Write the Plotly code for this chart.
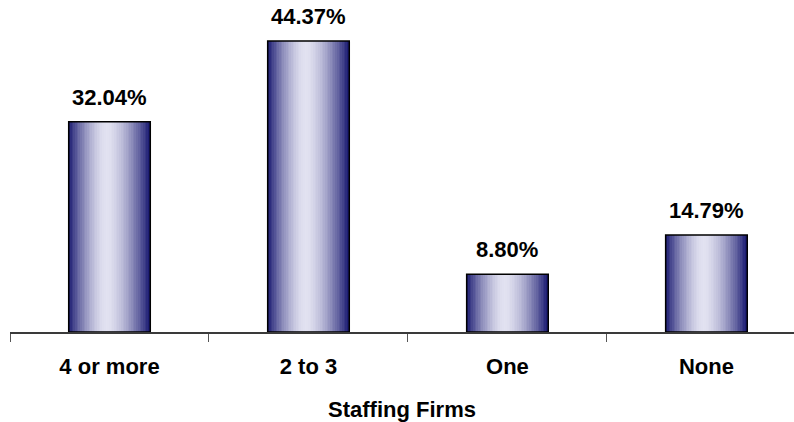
import plotly.graph_objects as go

# Survey responses: number of staffing firms used
categories = ["4 or more", "2 to 3", "One", "None"]
shares = [32.04, 44.37, 8.80, 14.79]
axis_title = "Staffing Firms"

FONT = "Arial, 'Liberation Sans', sans-serif"
BAR_WIDTH = 0.41
N_SLICES = 48
DARK = (24, 24, 112)
LIGHT = (226, 226, 241)


def shade(t):
    """Cylinder-like shading across a bar: dark edges, light middle."""
    centre = 0.47
    span = centre if t < centre else 1 - centre
    d = min(abs(t - centre) / span, 1.0)
    f = d ** 1.6
    r, g, b = (round(LIGHT[i] + (DARK[i] - LIGHT[i]) * f) for i in range(3))
    return f"rgb({r},{g},{b})"


fig = go.Figure()

# Gradient fill: each bar is built from narrow vertical slices
step = BAR_WIDTH / N_SLICES
for k in range(N_SLICES):
    t = (k + 0.5) / N_SLICES
    fig.add_trace(go.Bar(
        x=categories, y=shares,
        width=step * 1.15,
        offset=-BAR_WIDTH / 2 + k * step,
        marker=dict(color=shade(t), line=dict(width=0)),
        hoverinfo="skip", showlegend=False,
    ))

# Outline of each bar
fig.add_trace(go.Bar(
    x=categories, y=shares,
    width=BAR_WIDTH, offset=-BAR_WIDTH / 2,
    marker=dict(color="rgba(0,0,0,0)", line=dict(color="black", width=1.5)),
    hovertemplate="%{x}: %{y:.2f}%<extra></extra>", showlegend=False,
))

# Value labels above the bars
for cat, val in zip(categories, shares):
    fig.add_annotation(
        x=cat, y=val, text=f"<b>{val:.2f}%</b>",
        showarrow=False, yanchor="bottom", yshift=10,
        font=dict(family=FONT, size=22, color="black"),
    )

fig.update_layout(
    width=794, height=422,
    margin=dict(l=10, r=0, t=4, b=90),
    paper_bgcolor="white", plot_bgcolor="white",
    barmode="overlay",
    font=dict(family=FONT, color="black"),
    xaxis=dict(
        type="category",
        range=[-0.5, 3.44],
        showline=True, linecolor="#3a3a3a", linewidth=1.5,
        ticks="outside", tickson="boundaries", ticklen=8, tickcolor="#555555",
        tickfont=dict(family=FONT, size=22, color="black"),
        tickprefix="<b>", ticksuffix="</b>",
        ticklabelstandoff=14,
        title=dict(text=f"<b>{axis_title}</b>", font=dict(family=FONT, size=22, color="black"), standoff=26),
        showgrid=False, zeroline=False,
    ),
    yaxis=dict(range=[0, 50], visible=False, showgrid=False, zeroline=False),
)

fig.write_html("out.html")
